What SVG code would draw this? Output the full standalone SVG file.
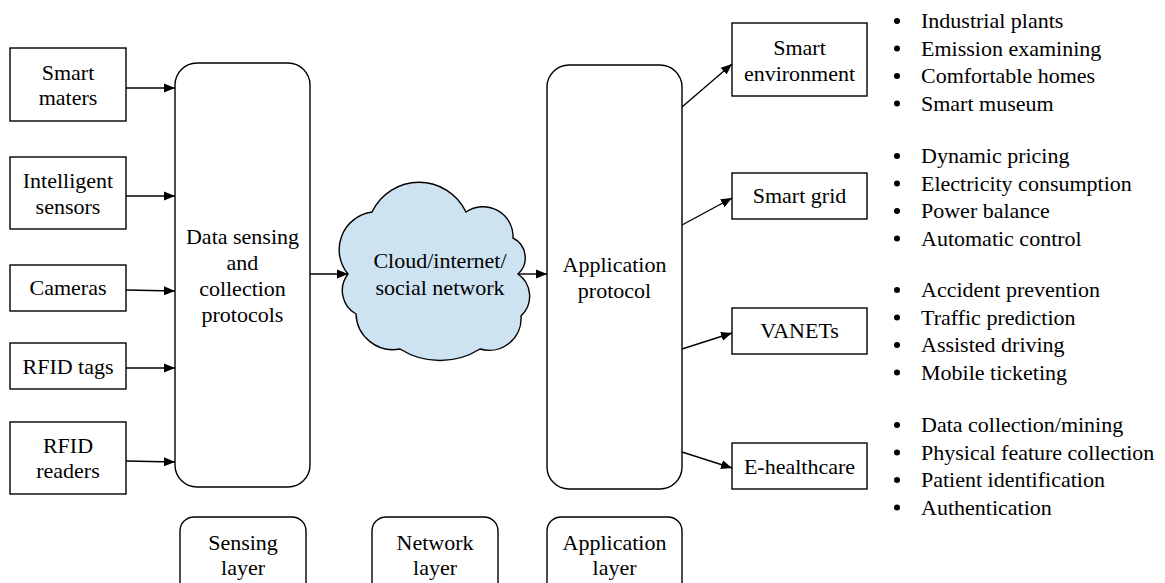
<svg xmlns="http://www.w3.org/2000/svg" width="1165" height="583" viewBox="0 0 1165 583">
<style>
.box{fill:#fff;stroke:#000;stroke-width:1.4}
text{font-family:"Liberation Serif","Times New Roman",Times,serif;font-size:22px;fill:#000}
.c{text-anchor:middle}
.ln{stroke:#000;stroke-width:1.4;fill:none;marker-end:url(#ah)}
.bl{fill:#000}
</style>
<defs>
<marker id="ah" markerUnits="userSpaceOnUse" markerWidth="12" markerHeight="10" refX="11" refY="5" orient="auto">
<path d="M0,0.5 L11,5 L0,9.5 Z" fill="#000"/>
</marker>
</defs>
<rect width="1165" height="583" fill="#fff"/>

<g id="smart-maters"><rect class="box" x="10" y="48" width="116" height="73"/><text class="c" x="68" y="80">Smart</text><text class="c" x="68" y="105">maters</text></g>
<g id="intelligent-sensors"><rect class="box" x="10" y="157" width="116" height="72"/><text class="c" x="68" y="188">Intelligent</text><text class="c" x="68" y="214">sensors</text></g>
<g id="cameras"><rect class="box" x="10" y="265" width="116" height="46"/><text class="c" x="68" y="295">Cameras</text></g>
<g id="rfid-tags"><rect class="box" x="10" y="343" width="116" height="46"/><text class="c" x="68" y="374">RFID tags</text></g>
<g id="rfid-readers"><rect class="box" x="10" y="422" width="116" height="72"/><text class="c" x="68" y="453">RFID</text><text class="c" x="68" y="478">readers</text></g>

<g id="data-sensing"><rect class="box" x="175" y="63" width="135" height="424" rx="22"/><text class="c" x="242.5" y="244">Data sensing</text><text class="c" x="242.5" y="270">and</text><text class="c" x="242.5" y="296">collection</text><text class="c" x="242.5" y="322">protocols</text></g>

<g id="cloud"><path d="M348,274 A38,38 0 0 1 372,212 A52,52 0 0 1 466,212 A30,30 0 0 1 513,238 A22,22 0 0 1 518,274 A27,27 0 0 1 521,316 A32,32 0 0 1 480,349 A75,75 0 0 1 400,349 A37,37 0 0 1 356,314 A27,27 0 0 1 348,274 Z" fill="#cee3f1" stroke="#000" stroke-width="1.4"/><text class="c" x="440" y="268">Cloud/internet/</text><text class="c" x="440" y="295">social network</text></g>

<g id="application-protocol"><rect class="box" x="547" y="65" width="135" height="424" rx="22"/><text class="c" x="614.5" y="272">Application</text><text class="c" x="614.5" y="298">protocol</text></g>

<g id="smart-environment"><rect class="box" x="732" y="23" width="135" height="73"/><text class="c" x="799.5" y="55">Smart</text><text class="c" x="799.5" y="81">environment</text></g>
<g id="smart-grid"><rect class="box" x="732" y="173" width="135" height="46"/><text class="c" x="799.5" y="203">Smart grid</text></g>
<g id="vanets"><rect class="box" x="732" y="308" width="135" height="46"/><text class="c" x="799.5" y="338">VANETs</text></g>
<g id="e-healthcare"><rect class="box" x="732" y="443" width="135" height="46"/><text class="c" x="799.5" y="474">E-healthcare</text></g>

<g id="sensing-layer"><rect class="box" x="180" y="517" width="126" height="80" rx="14"/><text class="c" x="243" y="550">Sensing</text><text class="c" x="243" y="575">layer</text></g>
<g id="network-layer"><rect class="box" x="372" y="517" width="126" height="80" rx="14"/><text class="c" x="435" y="550">Network</text><text class="c" x="435" y="575">layer</text></g>
<g id="application-layer"><rect class="box" x="547" y="517" width="135" height="80" rx="14"/><text class="c" x="614.5" y="550">Application</text><text class="c" x="614.5" y="575">layer</text></g>

<g id="connectors">
<line class="ln" x1="126" y1="88" x2="175" y2="88"/>
<line class="ln" x1="126" y1="196" x2="175" y2="196"/>
<line class="ln" x1="126" y1="290" x2="175" y2="291"/>
<line class="ln" x1="126" y1="368" x2="175" y2="368"/>
<line class="ln" x1="126" y1="461" x2="175" y2="462"/>
<line class="ln" x1="310" y1="274" x2="348" y2="274"/>
<line class="ln" x1="518" y1="274" x2="547" y2="274"/>
<line class="ln" x1="682" y1="107" x2="732" y2="64"/>
<line class="ln" x1="682" y1="225" x2="732" y2="198"/>
<line class="ln" x1="682" y1="349" x2="732" y2="333"/>
<line class="ln" x1="682" y1="452" x2="732" y2="468"/>
</g>

<g id="list-environment">
<circle class="bl" cx="897" cy="21" r="3"/><text x="921" y="28">Industrial plants</text>
<circle class="bl" cx="897" cy="48.5" r="3"/><text x="921" y="55.5">Emission examining</text>
<circle class="bl" cx="897" cy="76" r="3"/><text x="921" y="83">Comfortable homes</text>
<circle class="bl" cx="897" cy="103.5" r="3"/><text x="921" y="110.5">Smart museum</text>
</g>
<g id="list-grid">
<circle class="bl" cx="897" cy="156" r="3"/><text x="921" y="163">Dynamic pricing</text>
<circle class="bl" cx="897" cy="183.5" r="3"/><text x="921" y="190.5">Electricity consumption</text>
<circle class="bl" cx="897" cy="211" r="3"/><text x="921" y="218">Power balance</text>
<circle class="bl" cx="897" cy="238.5" r="3"/><text x="921" y="245.5">Automatic control</text>
</g>
<g id="list-vanets">
<circle class="bl" cx="897" cy="290" r="3"/><text x="921" y="297">Accident prevention</text>
<circle class="bl" cx="897" cy="317.5" r="3"/><text x="921" y="324.5">Traffic prediction</text>
<circle class="bl" cx="897" cy="345" r="3"/><text x="921" y="352">Assisted driving</text>
<circle class="bl" cx="897" cy="372.5" r="3"/><text x="921" y="379.5">Mobile ticketing</text>
</g>
<g id="list-healthcare">
<circle class="bl" cx="897" cy="425" r="3"/><text x="921" y="432">Data collection/mining</text>
<circle class="bl" cx="897" cy="452.5" r="3"/><text x="921" y="459.5">Physical feature collection</text>
<circle class="bl" cx="897" cy="480" r="3"/><text x="921" y="487">Patient identification</text>
<circle class="bl" cx="897" cy="507.5" r="3"/><text x="921" y="514.5">Authentication</text>
</g>
</svg>
